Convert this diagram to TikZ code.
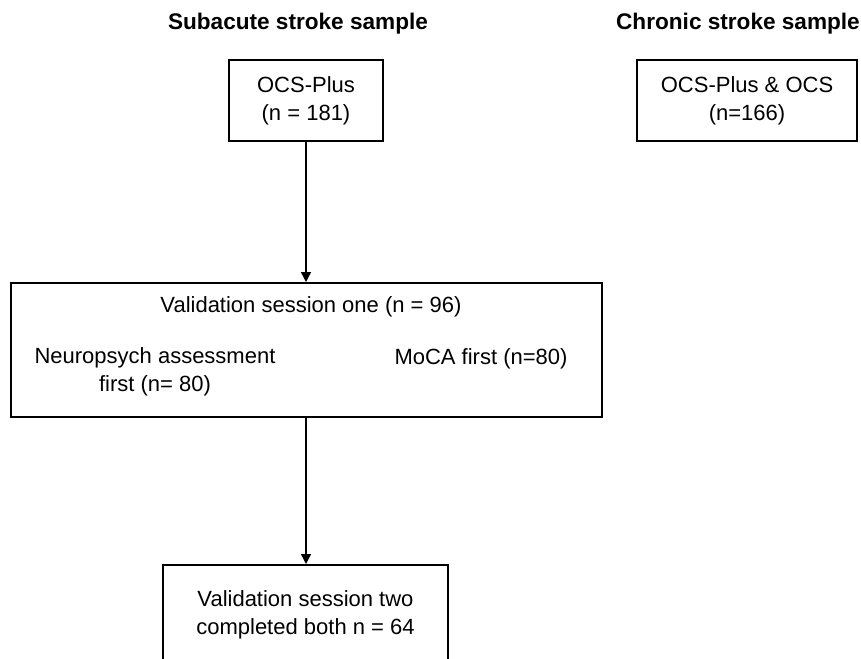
\documentclass[tikz,border=0pt]{standalone}
\usepackage{fontspec}
\setmainfont{Liberation Sans}
\usetikzlibrary{arrows.meta, positioning}

\tikzset{
    box/.style={draw, line width=1pt, align=center, inner sep=0pt},
    sampletitle/.style={font=\fontsize{11.3}{14}\selectfont\bfseries},
    link/.style={-{Triangle[width=5pt,length=5pt]}, line width=0.7pt},
}

\begin{document}
\begin{tikzpicture}[x=0.5pt, y=-0.5pt, font=\fontsize{11}{14}\selectfont]
    \useasboundingbox (0,0) rectangle (861,658);

    % Sample headings
    \node[sampletitle] (subTitle) at (298,24) {Subacute stroke sample};
    \node[sampletitle] (chrTitle) at (738,24) {Chronic stroke sample};

    % Top boxes
    \node[box, minimum width=77pt, minimum height=40.5pt] (ocsPlus) at (306,100.5) {\raisebox{-1.5pt}{\parbox{70pt}{\centering OCS-Plus\\(n = 181)}}};
    \node[box, minimum width=110pt, minimum height=40.5pt] (ocsBoth) at (747,100.5) {\raisebox{-1.5pt}{\parbox{105pt}{\centering OCS-Plus \& OCS\\(n=166)}}};

    % Session one - one big box with its texts inside
    \node[box, minimum width=295.5pt, minimum height=67pt] (sessionOne) at (306.5,350) {};
    \node (sessionOneText) at (311,307) {Validation session one (n = 96)};
    \node[align=center] (neuroFirst) at (155,372) {Neuropsych assessment\\first (n= 80)};
    \node (mocaFirst) at (481,359) {MoCA first (n=80)};

    % Session two - runs off the bottom edge
    \node[box, minimum width=142.5pt, minimum height=50pt] (sessionTwo) at (305.5,615) {Validation session two\\completed both n = 64};

    % Arrows
    \draw[link] (ocsPlus.south) -- (ocsPlus.south |- sessionOne.north);
    \draw[link] (ocsPlus.south |- sessionOne.south) -- (ocsPlus.south |- sessionTwo.north);
\end{tikzpicture}
\end{document}
